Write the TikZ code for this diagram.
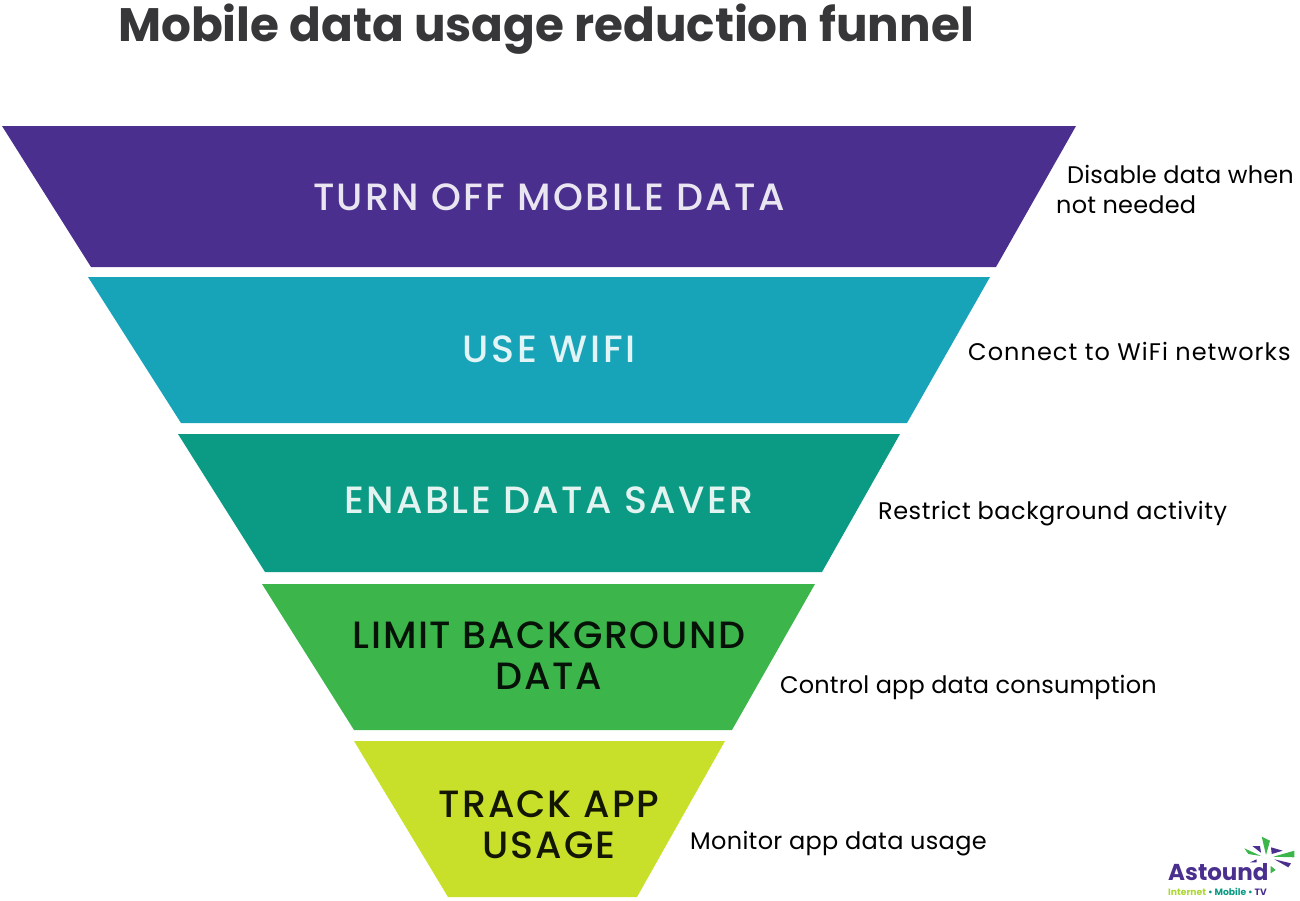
\documentclass[tikz,border=0pt]{standalone}
\usepackage{fontspec}
\setmainfont{Poppins}
\newfontfamily\stagefont{Poppins Medium}
\definecolor{plum}{HTML}{4A2F8F}
\definecolor{teal1}{HTML}{18A4B8}
\definecolor{teal2}{HTML}{0B9B84}
\definecolor{grass}{HTML}{3CB64B}
\definecolor{lime}{HTML}{C8E02A}
\definecolor{ink}{HTML}{37373A}
\tikzset{
  stagetext/.style={align=center,font=\stagefont\fontsize{38}{41}\selectfont\addfontfeatures{LetterSpace=#1}},
  sidetext/.style={anchor=base west,align=left,inner sep=0pt,font=\fontsize{24}{30}\selectfont\addfontfeatures{LetterSpace=#1}},
}
\begin{document}
\begin{tikzpicture}[x=1pt,y=-1pt]
\useasboundingbox (0,0) rectangle (1300,900);

\fill[plum] (2,126) -- (1076,126) -- (996,267) -- (91,267) -- cycle;
\fill[teal1] (88,277) -- (990,277) -- (907,423) -- (181,423) -- cycle;
\fill[teal2] (178,434) -- (900,434) -- (822,572) -- (265,572) -- cycle;
\fill[grass] (262,584) -- (815,584) -- (732,730) -- (354,730) -- cycle;
\fill[lime] (354,741) -- (725,741) -- (637,897) -- (448,897) -- cycle;

\node[anchor=base west,inner sep=0pt,text=ink,font=\fontsize{46.9}{60}\selectfont\bfseries] (title) at (118,41) {Mobile data usage reduction funnel};

\node[stagetext=6.4,text=white!88!plum] (data) at (549,197) {TURN OFF MOBILE DATA};
\node[stagetext=7.6,text=white!88!teal1] (wifi) at (549,349) {USE WIFI};
\node[stagetext=6.4,text=white!88!teal2] (saver) at (549,500) {ENABLE DATA SAVER};
\node[stagetext=4.3,text=black!90!grass] (limit) at (549,656) {LIMIT BACKGROUND\\DATA};
\node[stagetext=5,text=black!90!lime] (track) at (549,825) {TRACK APP\\USAGE};

\node[sidetext=.7] (note1a) at (1067,183) {Disable data when};
\node[sidetext=.8] (note1b) at (1056,213) {not needed};
\node[sidetext=4.4] (note2) at (968,360) {Connect to WiFi networks};
\node[sidetext=2.2] (note3) at (878,519) {Restrict background activity};
\node[sidetext=.6] (note4) at (780,693) {Control app data consumption};
\node[sidetext=1.3] (note5) at (690,849) {Monitor app data usage};

% logo
\fill[grass] (1261.7,836.7) -- (1270,840.7) -- (1266,855) -- cycle;
\fill[grass] (1244.3,848.3) -- (1261,856) -- (1248.3,854) -- cycle;
\fill[plum] (1252.3,846) -- (1260,846) -- (1261,852.7) -- cycle;
\fill[plum] (1271,847.3) -- (1282.7,850.7) -- (1271.7,854) -- cycle;
\fill[grass] (1273.3,856.7) -- (1294.3,850.7) -- (1294.3,857.3) -- cycle;
\fill[plum] (1274.3,859.3) -- (1291,863.3) -- (1288.3,867.3) -- cycle;
\fill[plum] (1250,862.3) -- (1256.7,859.3) -- (1256.7,862.3) -- cycle;
\fill[grass] (1270.7,866) -- (1275.7,870) -- (1270.7,873.3) -- cycle;
\node[anchor=base west,inner sep=0pt,text=plum,font=\fontsize{23}{30}\selectfont\bfseries] (brand) at (1168,880) {Astound};
\node[anchor=base west,inner sep=0pt,font=\fontsize{9.2}{10}\selectfont\bfseries] (tagline) at (1168,895) {\textcolor{lime!80!grass}{Internet} \textcolor{teal2}{• Mobile •} \textcolor{plum}{TV}};
\end{tikzpicture}
\end{document}
